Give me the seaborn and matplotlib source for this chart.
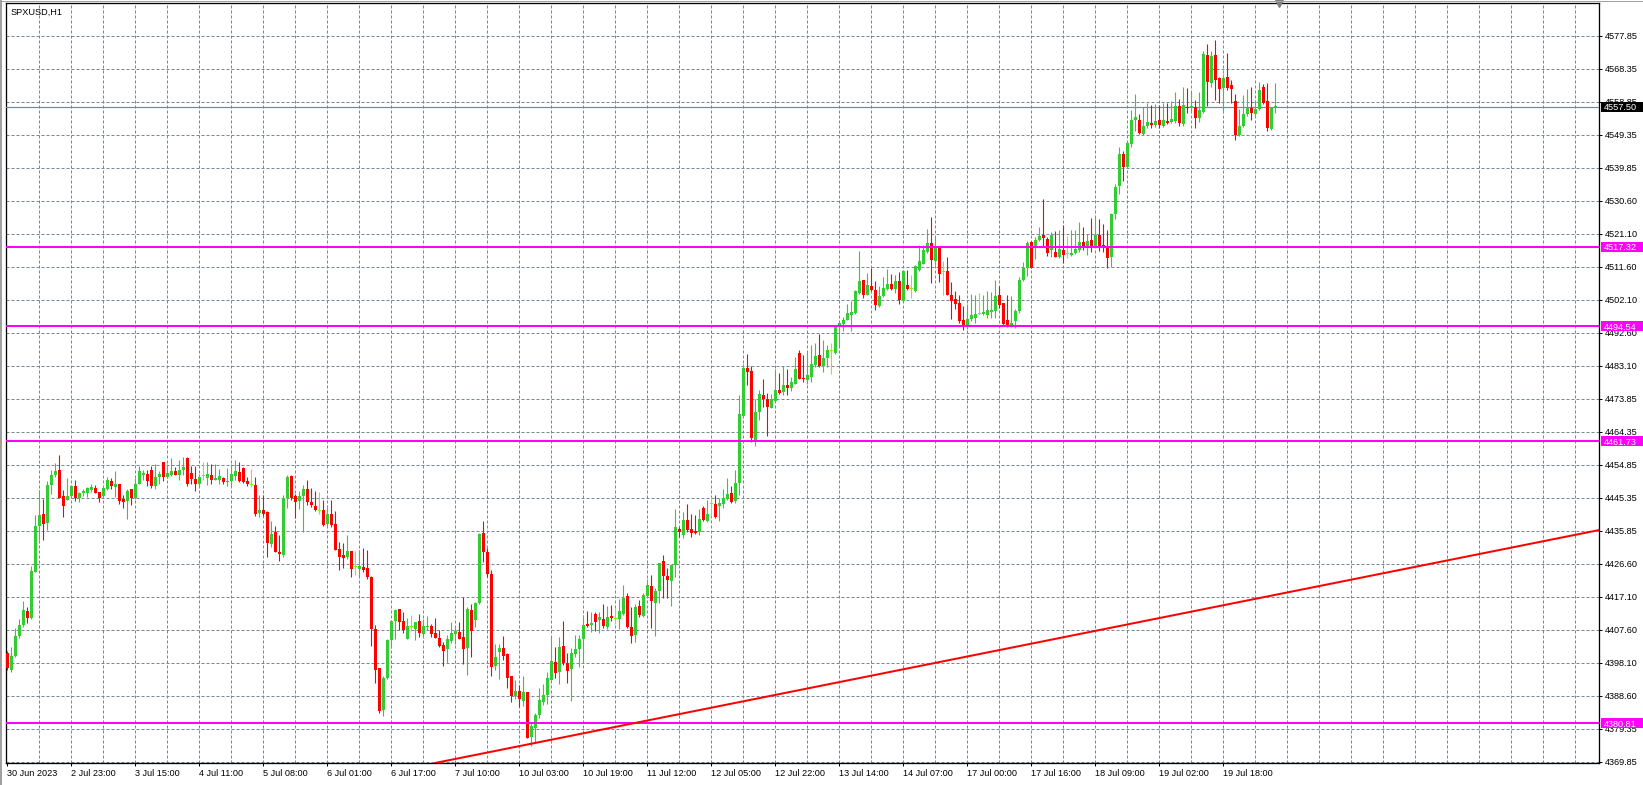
import numpy as np
import pandas as pd
import matplotlib
matplotlib.use("Agg")
import matplotlib.pyplot as plt
import matplotlib.transforms as mtransforms
from matplotlib.patches import Rectangle
from matplotlib.lines import Line2D
import seaborn as sns

# Chart data (SPXUSD, H1 candles)
SYMBOL = "SPXUSD,H1"

opens = [
    4401.1, 4396.2, 4400.0, 4405.8, 4408.9, 4413.0, 4411.0, 4424.2, 4437.4, 4440.7,
    4438.2, 4449.0, 4452.1, 4453.3, 4445.9, 4444.9, 4445.9, 4448.9, 4445.5, 4446.7,
    4446.9, 4447.6, 4448.2, 4447.0, 4446.0, 4448.1, 4450.2, 4448.5, 4449.3, 4445.0,
    4444.5, 4447.9, 4445.5, 4449.5, 4452.1, 4452.2, 4453.3, 4448.9, 4451.4, 4455.6,
    4451.4, 4452.1, 4453.0, 4452.1, 4453.3, 4457.0, 4452.6, 4450.9, 4449.5, 4451.6,
    4451.1, 4452.1, 4450.6, 4450.6, 4451.2, 4450.1, 4450.4, 4451.7, 4452.8, 4454.1,
    4450.2, 4449.2, 4449.0, 4441.1, 4442.0, 4441.4, 4432.1, 4435.6, 4429.9, 4429.2,
    4445.5, 4451.6, 4445.9, 4444.5, 4445.9, 4447.9, 4444.2, 4443.1, 4441.6, 4442.1,
    4438.0, 4440.7, 4438.0, 4430.7, 4429.0, 4428.5, 4430.2, 4425.6, 4425.1, 4425.6,
    4425.3, 4422.8, 4407.8, 4396.7, 4384.6, 4393.7, 4404.7, 4410.2, 4413.6, 4410.2,
    4405.0, 4408.3, 4407.9, 4410.2, 4406.4, 4408.3, 4408.7, 4406.8, 4405.4, 4403.3,
    4402.0, 4404.4, 4406.4, 4406.9, 4405.7, 4402.5, 4413.3, 4410.4, 4415.2, 4435.3,
    4430.0, 4423.6, 4397.3, 4401.3, 4402.5, 4400.7, 4394.5, 4388.8, 4390.1, 4387.2,
    4389.7, 4376.8, 4379.6, 4383.1, 4387.0, 4388.9, 4393.2, 4398.3, 4395.6, 4403.0,
    4398.2, 4396.3, 4400.6, 4402.1, 4405.0, 4409.3, 4409.0, 4412.3, 4410.5, 4410.8,
    4408.4, 4411.6, 4410.8, 4410.8, 4412.3, 4417.3, 4408.4, 4406.2, 4414.4, 4411.6,
    4417.3, 4420.1, 4415.3, 4418.7, 4427.3, 4423.0, 4421.6, 4426.1, 4436.4, 4434.9,
    4439.2, 4436.4, 4435.9, 4435.7, 4442.6, 4438.8, 4443.8, 4443.6, 4443.1, 4443.8,
    4445.0, 4446.9, 4444.4, 4449.7, 4469.0, 4482.7, 4481.7, 4462.1, 4470.0, 4475.0,
    4473.9, 4471.3, 4473.2, 4476.4, 4475.8, 4477.7, 4476.9, 4478.1, 4486.9, 4479.8,
    4479.1, 4480.1, 4483.6, 4486.3, 4483.2, 4485.5, 4487.5, 4486.9, 4494.4, 4495.3,
    4496.3, 4497.7, 4498.4, 4504.2, 4507.8, 4503.7, 4506.0, 4504.9, 4500.3, 4503.2,
    4505.2, 4506.6, 4505.2, 4507.5, 4501.8, 4506.3, 4505.2, 4504.7, 4510.8, 4512.5,
    4515.9, 4518.4, 4513.2, 4517.3, 4510.2, 4510.3, 4503.7, 4502.3, 4501.4, 4496.3,
    4494.4, 4496.6, 4497.1, 4498.2, 4498.2, 4497.7, 4498.7, 4499.0, 4503.5, 4501.3,
    4496.3, 4494.7, 4496.0, 4498.9, 4507.8, 4511.3, 4518.7, 4517.3, 4519.3, 4520.7,
    4519.6, 4516.4, 4516.0, 4514.5, 4516.4, 4515.2, 4515.0, 4515.7, 4516.5, 4518.8,
    4517.6, 4519.3, 4517.4, 4520.7, 4517.9, 4517.4, 4514.5, 4526.8, 4534.8, 4543.9,
    4540.3, 4546.7, 4553.7, 4553.7, 4549.6, 4552.0, 4552.7, 4552.3, 4553.7, 4552.0,
    4553.5, 4553.1, 4553.4, 4557.7, 4552.5, 4557.5, 4557.2, 4557.5, 4554.2, 4556.1,
    4572.3, 4564.4, 4572.3, 4565.8, 4562.8, 4566.1, 4563.7, 4559.1, 4549.4, 4552.0,
    4555.4, 4557.0, 4555.4, 4556.8, 4563.1, 4559.1, 4551.1, 4557.3,
]
highs = [
    4401.5, 4402.7, 4408.2, 4410.7, 4415.9, 4414.3, 4425.9, 4440.4, 4447.6, 4445.0,
    4450.3, 4453.3, 4455.4, 4457.6, 4447.6, 4451.1, 4449.0, 4450.5, 4447.1, 4447.9,
    4448.5, 4449.5, 4449.2, 4447.2, 4448.6, 4451.4, 4451.0, 4453.0, 4449.5, 4446.2,
    4448.1, 4448.0, 4451.1, 4454.7, 4453.3, 4453.5, 4454.5, 4455.2, 4453.0, 4455.8,
    4455.2, 4456.9, 4454.3, 4456.2, 4457.1, 4457.1, 4454.5, 4454.5, 4452.2, 4455.6,
    4455.6, 4455.2, 4455.2, 4453.8, 4451.5, 4454.1, 4455.0, 4456.2, 4455.6, 4454.3,
    4451.4, 4453.6, 4451.4, 4446.3, 4446.2, 4441.6, 4438.7, 4437.4, 4434.7, 4446.3,
    4451.9, 4452.1, 4446.6, 4447.4, 4449.0, 4450.7, 4448.3, 4447.3, 4447.1, 4444.7,
    4443.3, 4444.7, 4441.6, 4432.9, 4432.6, 4434.7, 4430.3, 4430.2, 4430.5, 4431.0,
    4430.5, 4423.0, 4409.0, 4396.8, 4394.5, 4405.0, 4410.4, 4413.6, 4413.6, 4412.6,
    4411.1, 4411.9, 4410.0, 4412.3, 4410.7, 4411.6, 4409.2, 4411.1, 4407.6, 4404.2,
    4406.1, 4410.0, 4408.7, 4410.0, 4417.1, 4414.1, 4415.0, 4415.7, 4435.3, 4438.8,
    4431.0, 4424.8, 4403.7, 4403.7, 4405.9, 4400.9, 4394.5, 4393.2, 4391.8, 4394.4,
    4389.7, 4381.3, 4383.7, 4390.9, 4392.0, 4395.6, 4405.6, 4402.8, 4405.6, 4410.2,
    4400.9, 4402.3, 4406.1, 4406.1, 4411.9, 4413.1, 4412.8, 4412.8, 4412.8, 4414.9,
    4414.4, 4414.8, 4413.9, 4416.6, 4420.4, 4418.2, 4414.2, 4415.1, 4416.3, 4418.2,
    4422.1, 4423.2, 4419.6, 4426.9, 4429.0, 4425.3, 4426.3, 4442.3, 4437.1, 4441.4,
    4443.6, 4440.7, 4440.4, 4442.3, 4443.0, 4444.9, 4445.7, 4446.2, 4445.4, 4448.1,
    4451.2, 4448.8, 4453.3, 4474.8, 4483.9, 4486.6, 4483.1, 4473.7, 4476.2, 4479.4,
    4475.5, 4475.3, 4482.4, 4481.3, 4483.2, 4482.3, 4480.1, 4485.8, 4487.7, 4486.3,
    4487.2, 4489.1, 4489.9, 4492.3, 4490.6, 4489.1, 4489.9, 4495.1, 4495.8, 4497.3,
    4500.9, 4501.8, 4504.9, 4516.1, 4508.0, 4509.9, 4511.3, 4507.5, 4506.0, 4508.7,
    4510.9, 4509.5, 4509.2, 4510.1, 4510.6, 4510.6, 4509.4, 4512.1, 4517.8, 4517.8,
    4522.4, 4525.9, 4520.2, 4517.3, 4513.3, 4514.4, 4507.3, 4504.7, 4503.5, 4500.3,
    4501.1, 4503.9, 4503.7, 4504.2, 4503.7, 4504.6, 4504.4, 4507.8, 4506.0, 4501.3,
    4503.5, 4503.2, 4499.6, 4508.7, 4513.0, 4518.9, 4518.9, 4520.2, 4523.1, 4531.1,
    4520.1, 4521.7, 4521.9, 4522.1, 4523.6, 4520.5, 4522.2, 4522.2, 4524.4, 4523.1,
    4521.0, 4525.7, 4525.8, 4525.2, 4523.9, 4522.2, 4527.0, 4535.3, 4546.0, 4544.9,
    4547.7, 4556.6, 4561.1, 4555.4, 4557.5, 4558.5, 4558.0, 4558.3, 4558.0, 4558.5,
    4558.5, 4559.0, 4561.8, 4559.7, 4563.2, 4563.0, 4561.8, 4559.4, 4561.8, 4573.6,
    4575.5, 4573.5, 4576.6, 4566.1, 4566.9, 4573.0, 4565.1, 4561.1, 4556.8, 4560.9,
    4562.6, 4563.1, 4559.4, 4564.5, 4564.0, 4564.4, 4557.5, 4564.4,
]
lows = [
    4396.2, 4395.5, 4399.8, 4405.4, 4408.4, 4409.6, 4410.8, 4424.1, 4433.4, 4433.3,
    4436.1, 4446.6, 4451.4, 4445.5, 4440.1, 4444.7, 4445.7, 4444.5, 4444.2, 4446.1,
    4445.7, 4447.0, 4446.8, 4444.2, 4445.7, 4447.6, 4448.1, 4445.7, 4443.8, 4442.5,
    4439.5, 4443.3, 4445.2, 4449.3, 4450.5, 4448.9, 4448.3, 4448.1, 4449.5, 4450.3,
    4451.2, 4451.8, 4452.0, 4450.6, 4452.1, 4448.7, 4449.5, 4447.3, 4448.9, 4450.5,
    4449.2, 4449.4, 4450.5, 4449.3, 4449.5, 4448.9, 4448.9, 4450.6, 4450.0, 4449.8,
    4448.7, 4448.6, 4440.2, 4440.0, 4440.2, 4428.5, 4431.3, 4429.9, 4427.3, 4428.5,
    4442.6, 4444.9, 4439.8, 4442.3, 4435.6, 4443.3, 4442.7, 4441.7, 4440.9, 4437.4,
    4437.1, 4437.1, 4430.4, 4424.7, 4425.3, 4427.8, 4422.8, 4423.3, 4422.6, 4424.3,
    4422.2, 4403.1, 4392.5, 4383.7, 4383.0, 4393.5, 4402.5, 4405.0, 4407.6, 4406.8,
    4405.0, 4407.4, 4404.7, 4405.7, 4405.7, 4407.6, 4405.7, 4405.2, 4402.8, 4397.2,
    4398.2, 4404.0, 4403.6, 4405.0, 4397.8, 4394.7, 4399.9, 4408.5, 4414.9, 4427.1,
    4422.8, 4394.5, 4396.1, 4393.5, 4399.0, 4391.0, 4386.9, 4387.7, 4385.6, 4385.8,
    4376.5, 4374.3, 4375.3, 4382.3, 4386.1, 4386.4, 4393.2, 4393.7, 4392.1, 4397.5,
    4392.3, 4387.2, 4399.9, 4397.1, 4398.0, 4408.5, 4407.1, 4407.4, 4406.8, 4408.1,
    4408.0, 4410.3, 4409.4, 4407.8, 4412.0, 4408.1, 4403.8, 4404.1, 4411.3, 4411.3,
    4417.0, 4408.1, 4405.9, 4415.3, 4416.7, 4416.7, 4414.5, 4422.8, 4434.2, 4433.9,
    4435.7, 4434.2, 4435.2, 4434.8, 4438.8, 4438.5, 4440.2, 4439.7, 4438.8, 4442.5,
    4444.8, 4444.1, 4444.1, 4446.2, 4468.6, 4477.7, 4461.4, 4460.3, 4467.8, 4471.5,
    4463.1, 4471.3, 4473.1, 4475.1, 4474.8, 4474.8, 4476.0, 4478.1, 4479.4, 4478.6,
    4478.2, 4478.6, 4482.9, 4482.9, 4481.5, 4482.9, 4480.8, 4486.7, 4489.0, 4493.2,
    4496.3, 4493.2, 4498.0, 4503.9, 4502.7, 4503.5, 4504.6, 4499.4, 4500.1, 4503.0,
    4504.9, 4504.9, 4504.2, 4500.9, 4501.8, 4504.9, 4502.8, 4504.4, 4510.4, 4512.5,
    4515.6, 4507.0, 4512.1, 4507.3, 4503.5, 4503.5, 4496.6, 4499.6, 4495.6, 4493.4,
    4493.9, 4496.1, 4495.6, 4497.7, 4497.7, 4496.9, 4496.9, 4496.9, 4499.9, 4494.9,
    4494.4, 4494.4, 4494.1, 4498.4, 4507.6, 4508.9, 4511.4, 4514.0, 4519.1, 4517.2,
    4514.7, 4514.5, 4514.5, 4514.3, 4512.6, 4514.2, 4514.8, 4515.3, 4515.8, 4516.5,
    4515.0, 4516.0, 4517.2, 4516.2, 4516.0, 4511.2, 4511.5, 4525.2, 4532.4, 4536.3,
    4540.0, 4546.1, 4550.6, 4549.7, 4549.4, 4551.5, 4551.3, 4551.6, 4551.5, 4551.8,
    4552.5, 4552.7, 4552.9, 4552.0, 4552.0, 4555.8, 4555.6, 4551.5, 4553.2, 4555.8,
    4557.7, 4563.1, 4559.4, 4558.5, 4555.6, 4562.3, 4558.7, 4548.0, 4549.1, 4551.6,
    4554.8, 4553.7, 4554.6, 4556.6, 4558.3, 4550.6, 4550.8, 4555.6,
]
closes = [
    4396.8, 4400.2, 4405.8, 4408.9, 4413.2, 4411.0, 4424.4, 4437.3, 4440.4, 4438.0,
    4449.0, 4452.1, 4453.0, 4445.5, 4443.1, 4445.9, 4448.9, 4445.5, 4446.7, 4447.3,
    4448.2, 4448.5, 4446.9, 4445.5, 4448.4, 4450.5, 4448.8, 4449.3, 4444.5, 4444.2,
    4447.3, 4445.5, 4449.5, 4453.0, 4452.6, 4450.3, 4448.9, 4451.4, 4452.2, 4451.4,
    4452.6, 4453.0, 4452.1, 4453.3, 4454.2, 4449.4, 4450.9, 4449.3, 4451.4, 4451.6,
    4452.2, 4450.5, 4451.2, 4451.6, 4450.0, 4450.2, 4452.2, 4453.0, 4450.4, 4450.1,
    4449.3, 4449.2, 4440.9, 4442.0, 4440.9, 4432.5, 4435.2, 4429.9, 4429.4, 4445.5,
    4451.4, 4445.5, 4444.2, 4445.9, 4447.9, 4444.2, 4443.5, 4441.9, 4441.6, 4437.8,
    4440.9, 4437.8, 4430.4, 4428.5, 4428.2, 4430.1, 4425.1, 4425.6, 4425.9, 4424.8,
    4422.8, 4407.8, 4396.1, 4384.4, 4393.9, 4404.7, 4410.2, 4413.3, 4409.8, 4407.6,
    4408.7, 4408.3, 4410.0, 4406.8, 4408.8, 4408.8, 4406.4, 4405.4, 4403.1, 4401.6,
    4404.9, 4406.8, 4407.3, 4405.0, 4402.1, 4413.6, 4407.4, 4415.2, 4435.1, 4430.0,
    4423.6, 4397.1, 4399.9, 4402.3, 4400.2, 4393.9, 4388.8, 4390.1, 4387.8, 4389.7,
    4376.7, 4380.1, 4383.1, 4387.5, 4388.9, 4393.7, 4398.7, 4395.3, 4402.8, 4398.0,
    4395.9, 4400.9, 4402.1, 4404.9, 4409.0, 4408.7, 4409.7, 4410.0, 4411.4, 4408.6,
    4411.3, 4411.0, 4410.8, 4412.9, 4416.8, 4408.4, 4405.9, 4414.2, 4411.8, 4417.5,
    4420.4, 4415.9, 4418.7, 4426.9, 4423.0, 4421.8, 4426.1, 4437.0, 4435.8, 4439.0,
    4436.1, 4435.5, 4435.5, 4439.5, 4439.0, 4440.7, 4443.8, 4440.0, 4444.1, 4445.5,
    4446.6, 4444.3, 4449.7, 4469.4, 4482.6, 4481.5, 4462.6, 4470.0, 4475.3, 4473.9,
    4471.5, 4473.9, 4476.2, 4475.5, 4477.7, 4476.9, 4478.6, 4482.3, 4479.6, 4479.4,
    4480.5, 4483.9, 4486.0, 4483.2, 4485.6, 4487.7, 4487.5, 4494.9, 4495.5, 4496.5,
    4498.4, 4498.7, 4504.6, 4507.5, 4503.7, 4506.3, 4504.9, 4500.6, 4503.2, 4505.6,
    4506.8, 4505.2, 4507.5, 4502.0, 4510.3, 4505.2, 4505.2, 4511.8, 4513.2, 4516.5,
    4518.4, 4513.5, 4517.0, 4509.5, 4510.2, 4503.7, 4501.8, 4500.9, 4496.0, 4494.4,
    4496.6, 4497.7, 4498.2, 4498.2, 4498.7, 4499.2, 4499.4, 4503.2, 4500.6, 4495.3,
    4494.7, 4495.6, 4498.9, 4507.8, 4511.3, 4518.4, 4511.4, 4519.4, 4520.5, 4519.8,
    4515.7, 4520.7, 4514.5, 4516.7, 4515.0, 4515.2, 4515.7, 4516.7, 4518.8, 4517.6,
    4519.1, 4517.4, 4520.7, 4517.6, 4517.1, 4514.2, 4526.8, 4534.4, 4544.1, 4540.3,
    4547.2, 4553.7, 4554.5, 4550.0, 4552.0, 4553.0, 4552.4, 4553.4, 4552.3, 4553.7,
    4552.9, 4553.9, 4557.7, 4552.9, 4558.0, 4557.2, 4557.7, 4554.2, 4556.6, 4572.6,
    4564.7, 4572.0, 4565.2, 4562.6, 4565.6, 4562.8, 4562.6, 4549.4, 4552.0, 4555.4,
    4557.0, 4555.8, 4556.8, 4562.3, 4558.7, 4551.5, 4557.5, 4557.5,
]

time_labels = [
    "30 Jun 2023", "2 Jul 23:00", "3 Jul 15:00", "4 Jul 11:00", "5 Jul 08:00",
    "6 Jul 01:00", "6 Jul 17:00", "7 Jul 10:00", "10 Jul 03:00", "10 Jul 19:00",
    "11 Jul 12:00", "12 Jul 05:00", "12 Jul 22:00", "13 Jul 14:00", "14 Jul 07:00",
    "17 Jul 00:00", "17 Jul 16:00", "18 Jul 09:00", "19 Jul 02:00", "19 Jul 18:00",
]
price_labels = [
    "4369.85", "4379.35", "4388.60", "4398.10", "4407.60", "4417.10", "4426.60",
    "4435.85", "4445.35", "4454.85", "4464.35", "4473.85", "4483.10", "4492.60",
    "4502.10", "4511.60", "4521.10", "4530.60", "4539.85", "4549.35", "4558.85",
    "4568.35", "4577.85",
]
levels = [4517.32, 4494.54, 4461.73, 4380.81]
bid_price = 4557.50
trend_points = [(131, 4375.0), (397, 4436.0)]

# Figure geometry in pixels
W, H, DPI = 1643, 785, 100
AX_LEFT, AX_RIGHT, AX_TOP, AX_BOTTOM = 6.3, 1599.0, 3.3, 763.0
BARS_PER_LABEL = 16
PX_PER_BAR = 4.0
PX_PER_POINT = 33.0 / ((4577.85 - 4369.85) / 22)

BULL, BEAR, DOJI = "#32CD32", "#FF0000", "#7CFC00"
GRID = "#778899"
LEVEL = "#FF00FF"
FONT_PT = 6.6
PX = 72.0 / DPI  # one pixel in points

sns.set_theme(style="white")
plt.rcParams["font.family"] = ["Liberation Sans", "DejaVu Sans"]

df = pd.DataFrame({"open": opens, "high": highs, "low": lows, "close": closes})
df["bar"] = np.arange(len(df))
df["color"] = np.where(df["close"] > df["open"], BULL,
                       np.where(df["close"] < df["open"], BEAR, DOJI))
df["body_low"] = df[["open", "close"]].min(axis=1)
df["body_h"] = np.maximum((df["close"] - df["open"]).abs(), 1.0 / PX_PER_POINT)

fig = plt.figure(figsize=(W / DPI, H / DPI), dpi=DPI, facecolor="white")
ax = fig.add_axes([AX_LEFT / W, (H - AX_BOTTOM) / H,
                   (AX_RIGHT - AX_LEFT) / W, (AX_BOTTOM - AX_TOP) / H])
ax.set_facecolor("white")

# axis ranges from pixel geometry
first_px = 7.3
x_min = (AX_LEFT - first_px) / PX_PER_BAR
x_max = (AX_RIGHT - first_px) / PX_PER_BAR
y_lo = float(price_labels[0]) - (AX_BOTTOM - 761.7) / PX_PER_POINT
y_hi = float(price_labels[-1]) + (35.7 - AX_TOP) / PX_PER_POINT
ax.set_xlim(x_min, x_max)
ax.set_ylim(y_lo, y_hi)

# grid
ax.set_axisbelow(True)
ax.set_xticks(np.arange(len(time_labels)) * BARS_PER_LABEL)
ax.set_xticklabels(time_labels, ha="left")
ax.set_xticks(np.arange(8, x_max, 8), minor=True)
ax.xaxis.remove_overlapping_locs = False
ax.grid(False)
ax.grid(True, axis="x", which="minor", color=GRID, lw=PX, linestyle=(0, (3, 2)))
ytick_pos = np.linspace(float(price_labels[0]), float(price_labels[-1]), len(price_labels))
ax.set_yticks(ytick_pos)
ax.set_yticklabels(price_labels)
ax.grid(True, axis="y", which="major", color=GRID, lw=PX, linestyle=(0, (3, 2)))

ax.yaxis.tick_right()
ax.tick_params(axis="y", which="major", direction="out", length=3 * PX, width=PX,
               pad=3 * PX, labelsize=FONT_PT, colors="black", right=True, left=False)
ax.tick_params(axis="x", which="major", direction="out", length=3 * PX, width=PX,
               pad=3 * PX, labelsize=FONT_PT, colors="black", bottom=True)
ax.tick_params(axis="x", which="minor", length=0)
for sp in ax.spines.values():
    sp.set_visible(True)
    sp.set_color("black")
    sp.set_linewidth(PX * 1.3)

# bid line
ax.axhline(bid_price, color=GRID, lw=PX * 1.2, zorder=2.6)

# candles
ax.vlines(df["bar"], df["low"], df["high"], colors=df["color"], lw=PX * 1.1, zorder=3)
ax.bar(df["bar"], df["body_h"], bottom=df["body_low"], width=0.75,
       color=df["color"], linewidth=0, zorder=3.1)

# support / resistance levels and trend line
for lv in levels:
    ax.axhline(lv, color=LEVEL, lw=2 * PX, zorder=4)
ax.axline(trend_points[0], trend_points[1], color="#FF0000", lw=2 * PX, zorder=4)

# price boxes on the right scale
axes_w_px = AX_RIGHT - AX_LEFT
box_tr = mtransforms.blended_transform_factory(ax.transAxes, ax.transData)
box_h = 10.0 / PX_PER_POINT


def price_box(price, face):
    ax.add_patch(Rectangle((1 + 1.7 / axes_w_px, price - box_h / 2), 42.0 / axes_w_px, box_h,
                           transform=box_tr, facecolor=face, edgecolor="none",
                           clip_on=False, zorder=6))
    ax.text(1 + 4.5 / axes_w_px, price, f"{price:.2f}", transform=box_tr, color="white",
            fontsize=FONT_PT, ha="left", va="center_baseline", clip_on=False, zorder=7)


for lv in levels:
    price_box(lv, LEVEL)
price_box(bid_price, "black")

# symbol caption
ax.annotate(SYMBOL, xy=(0, 1), xycoords="axes fraction", xytext=(4.5, -4.5),
            textcoords="offset pixels", ha="left", va="top", fontsize=FONT_PT, color="black")

# chart shift marker at the top
shift_tr = mtransforms.blended_transform_factory(ax.transData, ax.transAxes)
ax.plot([df["bar"].iloc[-1] + 1], [1.0], marker="v", ms=6, color="#808080",
        transform=shift_tr, clip_on=False, zorder=8)

# window frame
fig.add_artist(Line2D([1.0 / W, 1.0 / W], [0, 1], color="#a0a0a0", lw=2 * PX))
fig.add_artist(Line2D([0, 1], [1 - 0.5 / H, 1 - 0.5 / H], color="#a0a0a0", lw=PX))

fig.savefig("out.png", dpi=DPI, facecolor="white")
